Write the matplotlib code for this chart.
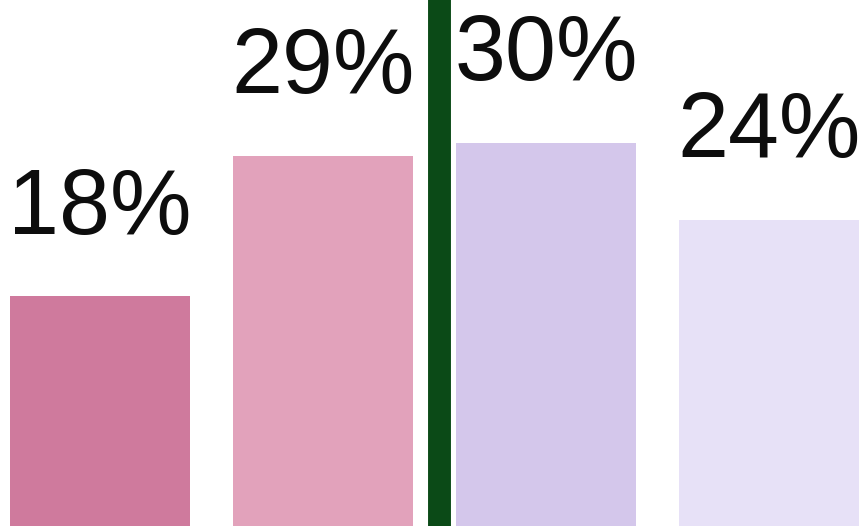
import matplotlib
matplotlib.use("Agg")
import matplotlib.pyplot as plt

# Data
shares = [18, 29, 30, 24]
labels = [f"{v}%" for v in shares]
colors = ["#cf7a9d", "#e2a2bb", "#d4c7eb", "#e7e1f7"]
divider_pos = 1.52  # between the two groups

fig = plt.figure(figsize=(8.67, 5.26), dpi=100)
ax = fig.add_axes([0, 0, 1, 1])

x = range(len(shares))
bars = ax.bar(x, shares, width=0.807, color=colors)

for b, lab in zip(bars, labels):
    ax.annotate(lab, (b.get_x() + b.get_width() / 2, b.get_height()),
                xytext=(0, 45), textcoords="offset points",
                ha="center", va="baseline", fontsize=66,
                family=["Liberation Sans", "DejaVu Sans"], color="#0d0d0d")

ax.axvline(divider_pos, color="#0b4a17", linewidth=16.5)

ax.set_xlim(-0.448, 3.439)
ax.set_ylim(0, 41.2)
ax.axis("off")

fig.savefig("out.png", dpi=100)
